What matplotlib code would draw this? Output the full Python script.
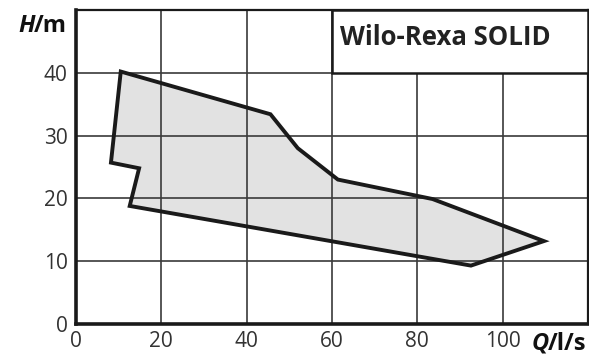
import numpy as np
import matplotlib.pyplot as plt
from matplotlib.patches import Polygon, Rectangle

# Kennfeld (Q in l/s, H in m)
q_vals = [10.5, 45.6, 52.0, 61.4, 83.6, 109.7, 92.6, 12.6, 14.8, 8.2]
h_vals = [40.2, 33.4, 28.0, 23.0, 19.9, 13.2, 9.3, 18.8, 24.8, 25.7]

x_ticks = [0, 20, 40, 60, 80, 100]
y_ticks = [0, 10, 20, 30, 40]
title = "Wilo-Rexa SOLID"

plt.rcParams['font.family'] = ['Open Sans', 'DejaVu Sans']

fig = plt.figure(figsize=(5.89, 3.58), dpi=100)
ax = fig.add_axes([0.129, 0.095, 0.869, 0.877])

ax.set_xlim(0, 120)
ax.set_ylim(0, 50)
ax.set_xticks(x_ticks)
ax.set_yticks(y_ticks)
ax.tick_params(length=0, labelsize=15, colors='#333333')
ax.tick_params(axis='x', pad=5)
ax.tick_params(axis='y', pad=6)

for side in ['left', 'bottom']:
    ax.spines[side].set_linewidth(2.6)
    ax.spines[side].set_color('#1a1a1a')
for side in ['top', 'right']:
    ax.spines[side].set_linewidth(1.6)
    ax.spines[side].set_color('#1a1a1a')

# Flaeche, dann Gitter darueber, dann Kontur
xy = np.column_stack([q_vals, h_vals])
ax.add_patch(Polygon(xy, closed=True, facecolor='#e2e2e2', edgecolor='none', zorder=1))
for t in x_ticks[1:]:
    ax.axvline(t, color='#3a3a3a', linewidth=1.2, zorder=2)
for t in y_ticks[1:]:
    ax.axhline(t, color='#3a3a3a', linewidth=1.2, zorder=2)
ax.add_patch(Polygon(xy, closed=True, facecolor='none', edgecolor='#1a1a1a',
                     linewidth=2.8, joinstyle='miter', zorder=3))

# Typenbox oben rechts
ax.add_patch(Rectangle((60, 40), 60, 10, facecolor='white', edgecolor='#1a1a1a',
                       linewidth=1.8, zorder=4))
ax.text(61.8, 45.7, title, fontsize=18.5, fontweight='bold', color='#222222',
        ha='left', va='center', zorder=5)

# Achsenbeschriftungen: kursiver Buchstabe + aufrechter Rest
fig.canvas.draw()
renderer = fig.canvas.get_renderer()


def axis_label(x, y, sym, rest):
    t1 = fig.text(x, y, sym, fontsize=17, fontweight='bold', style='italic',
                  color='#111111', ha='left', va='center')
    bb = t1.get_window_extent(renderer)
    x2 = bb.x1 / fig.bbox.width - 0.002
    fig.text(x2, y, rest, fontsize=17, fontweight='bold',
             color='#111111', ha='left', va='center')


axis_label(0.032, 0.928, 'H', '/m')
axis_label(0.902, 0.040, 'Q', '/l/s')

plt.savefig('out.png', dpi=100)
